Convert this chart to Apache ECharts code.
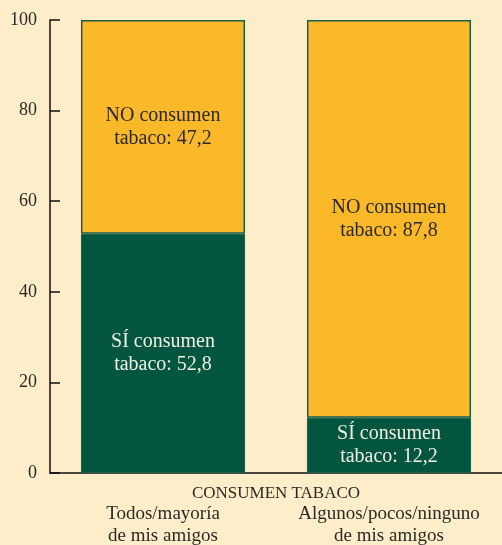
<!DOCTYPE html>
<html>
<head>
<meta charset="utf-8">
<script src="https://cdn.jsdelivr.net/npm/echarts@6/dist/echarts.min.js"></script>
<style>html,body{margin:0;padding:0;background:#fdedc8;}#c{width:502px;height:545px;}</style>
</head>
<body>
<div id="c"></div>
<script>
var categories = ['Todos/mayoría\nde mis amigos', 'Algunos/pocos/ninguno\nde mis amigos'];
var siValues = [52.8, 12.2];
var noValues = [47.2, 87.8];
var yTicks = [0, 20, 40, 60, 80, 100];
var axisTitle = 'CONSUMEN TABACO';

var font = 'Liberation Serif, Times New Roman, serif';
var chart = echarts.init(document.getElementById('c'), null, {renderer: 'canvas'});
function fmt(v) { return String(v).replace('.', ','); }
chart.setOption({
  backgroundColor: '#fdedc8',
  animation: false,
  grid: {left: 50, right: 0, top: 20, bottom: 72, containLabel: false, outerBoundsMode: 'none'},
  xAxis: {
    type: 'category',
    data: categories,
    name: axisTitle,
    nameLocation: 'middle',
    nameGap: 12,
    nameMoveOverlap: false,
    nameTextStyle: {fontFamily: font, fontSize: 17, color: '#2a2a2a', verticalAlign: 'top'},
    axisLine: {lineStyle: {color: '#111', width: 1.5}},
    axisTick: {inside: true, length: 8, lineStyle: {color: '#111', width: 1.5}},
    axisLabel: {interval: 0, hideOverlap: false, fontFamily: font, fontSize: 19, color: '#2a2a2a', margin: 30, lineHeight: 22}
  },
  yAxis: {
    type: 'value',
    min: yTicks[0],
    max: yTicks[yTicks.length - 1],
    interval: 20,
    axisLine: {show: true, lineStyle: {color: '#111', width: 1.5}},
    axisTick: {show: true, inside: true, length: 10, lineStyle: {color: '#111', width: 1.5}},
    splitLine: {show: false},
    axisLabel: {fontFamily: font, fontSize: 18, color: '#2a2a2a', margin: 13}
  },
  series: [
    {
      name: 'SÍ', type: 'bar', stack: 'a', data: siValues, barWidth: '72.6%',
      itemStyle: {color: '#02563f', borderColor: '#1b5e4a', borderWidth: 1},
      label: {show: true, position: 'inside', fontFamily: font, fontSize: 20, color: '#f2efe4', lineHeight: 23,
        formatter: function (p) { return 'SÍ consumen\ntabaco: ' + fmt(p.value); }}
    },
    {
      name: 'NO', type: 'bar', stack: 'a', data: noValues, barWidth: '72.6%',
      itemStyle: {color: '#fbb829', borderColor: '#1b5e4a', borderWidth: 1.5},
      label: {show: true, position: 'inside', fontFamily: font, fontSize: 20, color: '#2a2a2a', lineHeight: 23,
        formatter: function (p) { return 'NO consumen\ntabaco: ' + fmt(p.value); }}
    }
  ]
});
</script>
</body>
</html>
